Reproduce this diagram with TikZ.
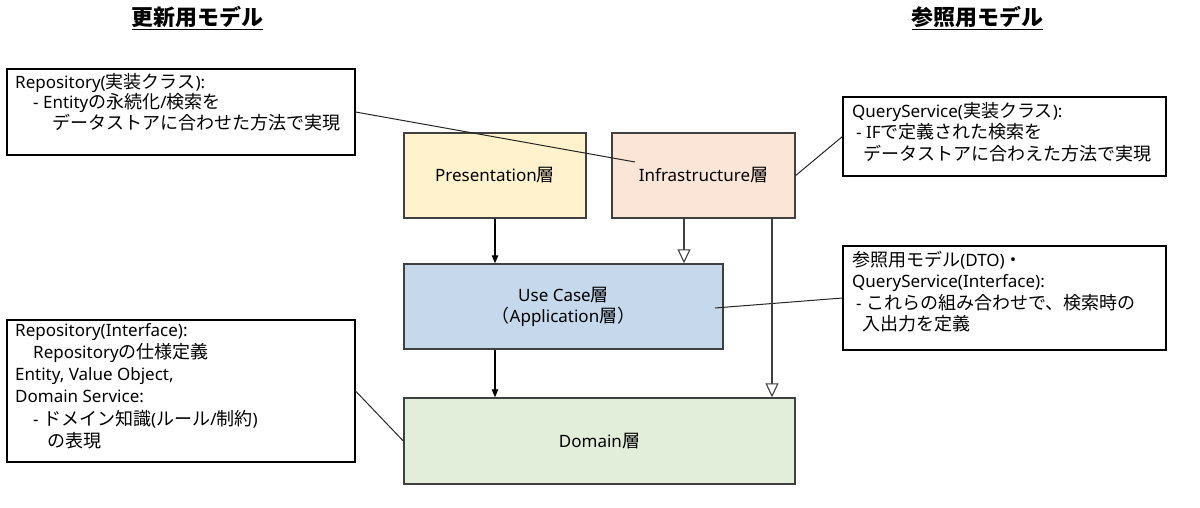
\documentclass[tikz,border=0pt]{standalone}
\usepackage{fontspec}
\setmainfont{Noto Sans}
\newfontfamily\jafont[Scale=1.06]{Noto Sans CJK JP}
\newcommand{\jp}[1]{{\jafont #1}}
\usetikzlibrary{arrows.meta, positioning}

\definecolor{presfill}{HTML}{FFF2CC}
\definecolor{infrafill}{HTML}{FBE5D6}
\definecolor{usecasefill}{HTML}{C5D8EC}
\definecolor{domainfill}{HTML}{E3EEDA}
\definecolor{layerline}{HTML}{404040}

\begin{document}
\begin{tikzpicture}[
        x=1pt, y=-1pt,
        font=\fontsize{17}{21}\selectfont,
        layer/.style={
            rectangle,
            draw=layerline,
            line width=1.4pt,
            align=center,
            inner sep=0pt
        },
        note/.style={
            rectangle,
            draw=black,
            line width=1.1pt,
            inner sep=0pt
        },
        notetext/.style={
            anchor=north west,
            inner sep=0pt,
            align=left,
            execute at begin node={\rule{0pt}{16.5pt}}
        },
        heading/.style={font=\fontsize{20.7}{26}\selectfont\bfseries},
        link/.style={draw=black!85, line width=1pt},
        call/.style={-{Triangle[length=8pt, width=6.5pt]}, draw=black, line width=1.1pt},
        impl/.style={-{Triangle[fill=white, length=14pt, width=13pt]}, draw=layerline, line width=1.1pt}
    ]

    \useasboundingbox (0,0) rectangle (1200,508);

    % titles
    \node[heading] (updmodel) at (197.5,18) {\underline{\jp{更新用モデル}}};
    \node[heading] (refmodel) at (977.5,18) {\underline{\jp{参照用モデル}}};

    % layers
    \node[layer, fill=presfill, minimum width=182pt, minimum height=85pt] (pres) at (495,175.5) {Presentation\jp{層}};
    \node[layer, fill=infrafill, minimum width=183pt, minimum height=85pt] (infra) at (703.5,175.5) {Infrastructure\jp{層}};
    \node[layer, fill=usecasefill, minimum width=319pt, minimum height=85pt] (usecase) at (563.5,306.5) {Use Case\jp{層}\\\jp{（}Application\jp{層）}};
    \node[layer, fill=domainfill, minimum width=391pt, minimum height=86pt] (domain) at (599.5,441) {Domain\jp{層}};

    % notes
    \node[note, minimum width=348pt, minimum height=86pt] (repoimpl) at (181,112) {};
    \node[note, minimum width=323pt, minimum height=79pt] (queryimpl) at (1004.5,136.5) {};
    \node[note, minimum width=323pt, minimum height=104pt] (dto) at (1004.5,298) {};
    \node[note, minimum width=348pt, minimum height=142pt] (repoif) at (181,391) {};

    \node[notetext, font=\fontsize{17}{20.7}\selectfont] (repoimpl-txt) at (15,72.8) {Repository(\jp{実装クラス}):\\
        \hspace*{18pt}- Entity\jp{の永続化}/\jp{検索を}\\
        \hspace*{37pt}\jp{データストアに合わせた方法で実現}};
    \node[notetext, font=\fontsize{17}{21.7}\selectfont] (queryimpl-txt) at (852,101.8) {QueryService(\jp{実装クラス}):\\
        \hspace*{4pt}- IF\jp{で定義された検索を}\\
        \hspace*{11pt}\jp{データストアに合わえた方法で実現}};
    \node[notetext, font=\fontsize{17}{21.5}\selectfont] (dto-txt) at (852,250.8) {\jp{参照用モデル}(DTO)\jp{・}\\
        QueryService(Interface):\\
        \hspace*{4pt}- \jp{これらの組み合わせで、検索時の}\\
        \hspace*{10pt}\jp{入出力を定義}};
    \node[notetext, font=\fontsize{17}{22.3}\selectfont] (repoif-txt) at (15,322.8) {Repository(Interface):\\
        \hspace*{18pt}Repository\jp{の仕様定義}\\
        Entity, Value Object,\\
        Domain Service:\\
        \hspace*{18pt}- \jp{ドメイン知識}(\jp{ルール}/\jp{制約})\\
        \hspace*{32pt}\jp{の表現}};

    % note connectors
    \coordinate (infra-pin) at (635,162);
    \coordinate (usecase-pin) at (715,308);
    \draw[link] (repoimpl.east) -- (infra-pin);
    \draw[link] (infra.east) -- (queryimpl.west);
    \draw[link] (usecase-pin) -- (dto.west);
    \draw[link] (repoif.east) -- (domain.west);

    % dependencies
    \draw[call] (pres.south) -- (pres.south |- usecase.north);
    \draw[impl] ([xshift=-19.5pt]infra.south) -- ([xshift=-19.5pt]infra.south |- usecase.north);
    \draw[impl] ([xshift=68.5pt]infra.south) -- ([xshift=68.5pt]infra.south |- domain.north);
    \draw[call] (pres.south |- usecase.south) -- (pres.south |- domain.north);

\end{tikzpicture}
\end{document}
